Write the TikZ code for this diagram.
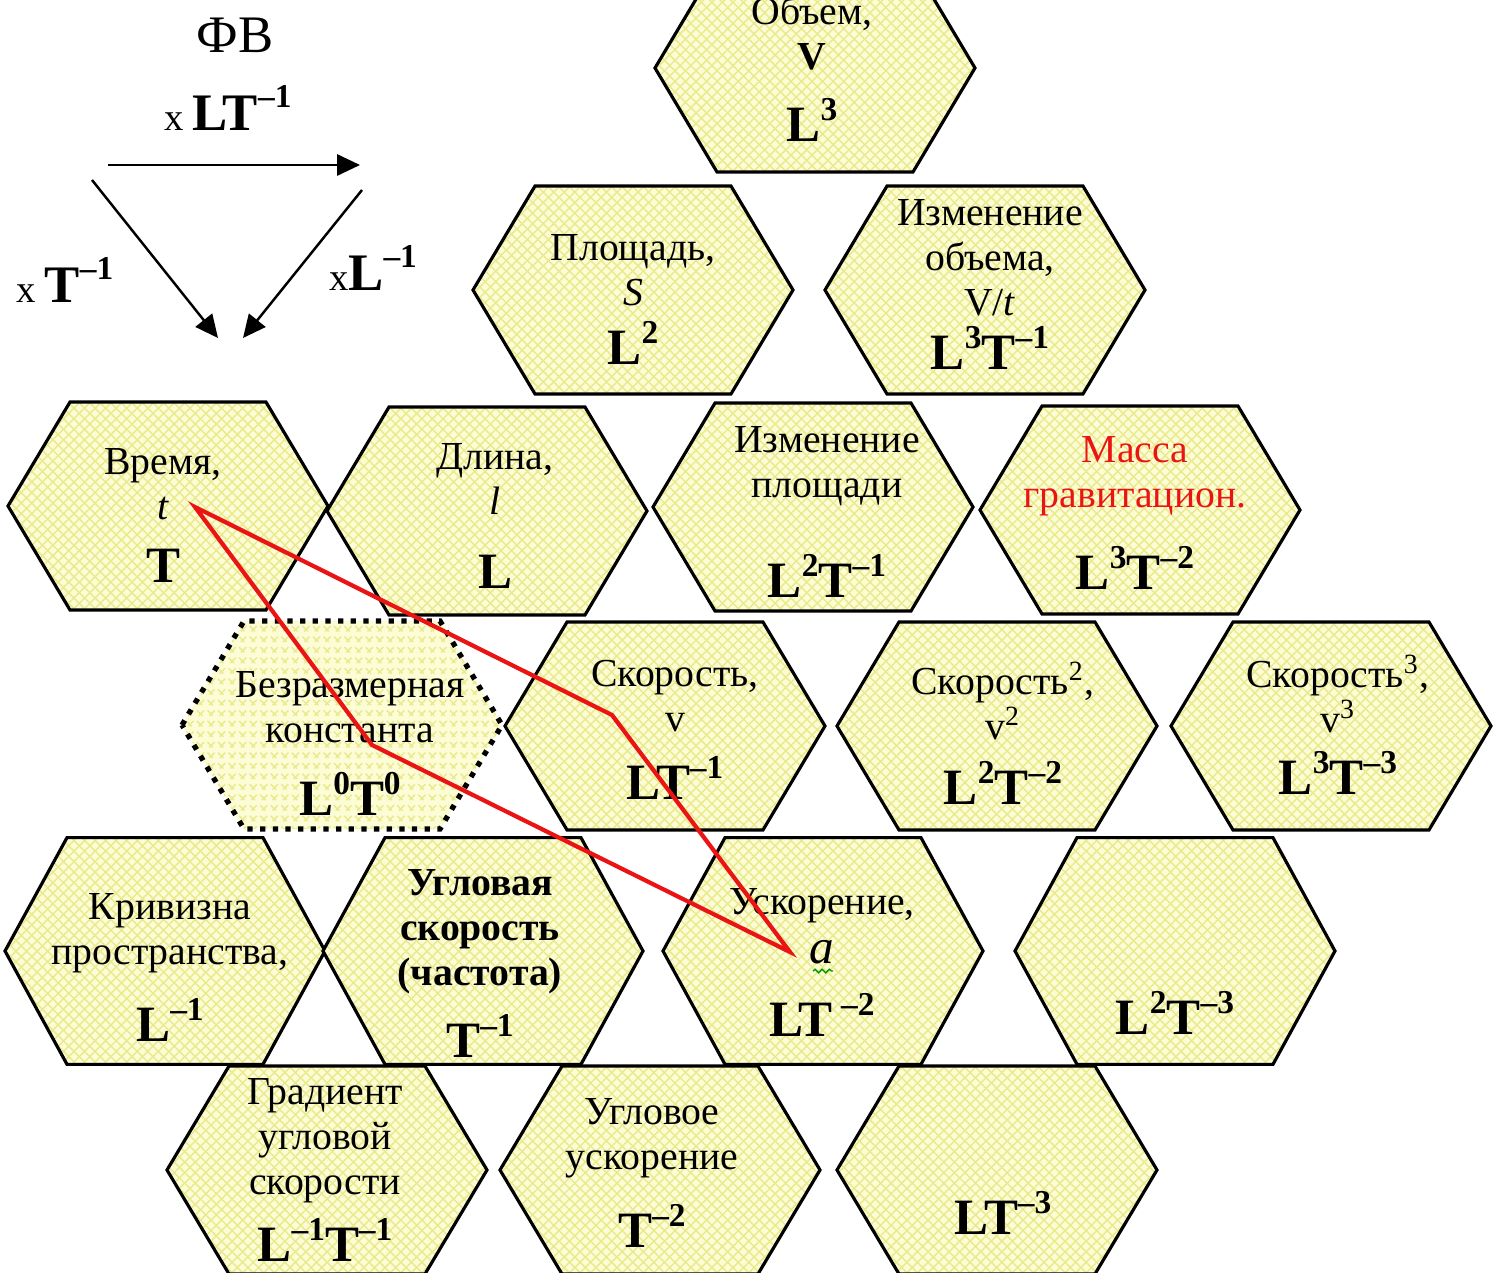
\documentclass[tikz,border=0pt]{standalone}
\usepackage{fontspec}
\setmainfont{Liberation Serif}
\usetikzlibrary{patterns,arrows.meta,decorations.pathmorphing}

\definecolor{hexfill}{RGB}{252,252,214}
\definecolor{hexhatch}{RGB}{234,234,140}
\definecolor{pathred}{RGB}{235,20,20}

\newcommand{\ex}[1]{\raisebox{0.42em}{\fontsize{9.5}{9.5}\selectfont #1}}

\tikzset{
  hexline/.style={draw=black, line width=0.9pt, preaction={fill=hexfill},
    pattern=crosshatch, pattern color=hexhatch},
  hexcell/.pic={\path[hexline] (-1.6,0) -- (-0.98,1.04) -- (0.98,1.04) -- (1.6,0)
    -- (0.98,-1.04) -- (-0.98,-1.04) -- cycle;},
  quantity/.style={font=\fontsize{11.3}{12.8}\selectfont, align=center, inner sep=0pt},
  dimen/.style={font=\fontsize{14.5}{16}\selectfont\bfseries, inner sep=0pt},
}

\begin{document}
\begin{tikzpicture}[>={Triangle[length=6.5pt,width=6pt]}]
\useasboundingbox (0,0) rectangle (14.97,-12.73);
\clip (0,0) rectangle (14.97,-12.73);

% legend
\node[font=\fontsize{15}{16}\selectfont] (fv) at (2.35,-0.35) {ФВ};
\node[font=\fontsize{15}{16}\selectfont] (lab-lt) at (2.28,-1.08) {{\fontsize{11}{11}\selectfont x}\,\textbf{LT\ex{–1}}};
\coordinate (a1) at (1.08,-1.65);
\coordinate (a2) at (3.60,-1.65);
\coordinate (b1) at (0.92,-1.80);
\coordinate (b2) at (2.18,-3.38);
\coordinate (c1) at (3.62,-1.90);
\coordinate (c2) at (2.43,-3.38);
\draw[->, line width=0.7pt] (a1) -- (a2);
\draw[->, line width=0.7pt] (b1) -- (b2);
\draw[->, line width=0.7pt] (c1) -- (c2);
\node[font=\fontsize{15}{16}\selectfont] (lab-t) at (0.65,-2.80) {{\fontsize{11}{11}\selectfont x}\,\textbf{T\ex{–1}}};
\node[font=\fontsize{15}{16}\selectfont] (lab-l) at (3.73,-2.68) {{\fontsize{11}{11}\selectfont x}\textbf{L\ex{–1}}};

% hexagons
\pic at (8.15,-0.68) {hexcell};
\pic at (6.33,-2.90) {hexcell};
\pic at (9.85,-2.90) {hexcell};
\pic at (1.68,-5.06) {hexcell};
\pic at (4.87,-5.11) {hexcell};
\pic at (8.13,-5.07) {hexcell};
\pic at (11.40,-5.10) {hexcell};
\pic[hexline/.append style={line width=1.5pt, dash pattern=on 1.5pt off 2.1pt}] at (3.42,-7.25) {hexcell};
\pic at (6.65,-7.26) {hexcell};
\pic at (9.97,-7.26) {hexcell};
\pic at (13.31,-7.26) {hexcell};
\pic[yscale=1.09] at (1.65,-9.51) {hexcell};
\pic[yscale=1.09] at (4.83,-9.51) {hexcell};
\pic[yscale=1.09] at (8.23,-9.51) {hexcell};
\pic[yscale=1.09] at (11.75,-9.51) {hexcell};
\pic at (3.27,-11.70) {hexcell};
\pic at (6.60,-11.70) {hexcell};
\pic at (9.97,-11.70) {hexcell};

% names of the quantities
\node[quantity] (vol) at (8.12,-0.33) {Объем,\\\textbf{V}};
\node[quantity] (area) at (6.33,-2.70) {Площадь,\\\textit{S}};
\node[quantity] (dvol) at (9.90,-2.58) {Изменение\\объема,\\V/\textit{t}};
\node[quantity] (time) at (1.63,-4.84) {Время,\\\textit{t}};
\node[quantity] (len) at (4.95,-4.79) {Длина,\\\textit{l}};
\node[quantity] (darea) at (8.27,-4.66) {Изменение\\площади};
\node[quantity, text=pathred] (mass) at (11.35,-4.76) {Масса\\гравитацион.};
\node[quantity] (const) at (3.50,-7.07) {Безразмерная\\константа};
\node[quantity] (vel) at (6.75,-6.96) {Скорость,\\v};
\node[quantity] (vel2) at (10.03,-7.01) {Скорость\textsuperscript{2},\\v\textsuperscript{2}};
\node[quantity] (vel3) at (13.38,-6.94) {Скорость\textsuperscript{3},\\v\textsuperscript{3}};
\node[quantity] (curv) at (1.70,-9.33) {Кривизна\\пространства,};
\node[quantity, font=\fontsize{11.3}{12.8}\selectfont\bfseries] (omega) at (4.80,-9.32) {Угловая\\скорость\\(частота)};
\node[quantity] (acc) at (8.22,-9.26) {Ускорение,\\[1pt]{\fontsize{14}{14}\selectfont\textit{a}}};
\node[quantity] (grad) at (3.25,-11.41) {Градиент\\угловой\\скорости};
\node[quantity] (alpha) at (6.52,-11.38) {Угловое\\ускорение};
\draw[green!60!black, line width=0.4pt, decorate, decoration={snake, amplitude=0.5pt, segment length=2pt}] (8.13,-9.71) -- (8.33,-9.71);

% dimensions
\node[dimen] (vol-d) at (8.12,-1.20) {L\ex{3}};
\node[dimen] (area-d) at (6.33,-3.43) {L\ex{2}};
\node[dimen] (dvol-d) at (9.90,-3.48) {L\ex{3}T\ex{–1}};
\node[dimen] (time-d) at (1.63,-5.66) {T};
\node[dimen] (len-d) at (4.95,-5.72) {L};
\node[dimen] (darea-d) at (8.27,-5.76) {L\ex{2}T\ex{–1}};
\node[dimen] (mass-d) at (11.35,-5.68) {L\ex{3}T\ex{–2}};
\node[dimen] (const-d) at (3.50,-7.94) {L\ex{0}T\ex{0}};
\node[dimen] (vel-d) at (6.75,-7.78) {LT\ex{–1}};
\node[dimen] (vel2-d) at (10.03,-7.83) {L\ex{2}T\ex{–2}};
\node[dimen] (vel3-d) at (13.38,-7.73) {L\ex{3}T\ex{–3}};
\node[dimen] (curv-d) at (1.70,-10.20) {L\ex{–1}};
\node[dimen] (omega-d) at (4.80,-10.36) {T\ex{–1}};
\node[dimen] (acc-d) at (8.22,-10.15) {LT\,\ex{–2}};
\node[dimen] (l2t3-d) at (11.75,-10.13) {L\ex{2}T\ex{–3}};
\node[dimen] (grad-d) at (3.25,-12.40) {L\ex{–1}T\ex{–1}};
\node[dimen] (alpha-d) at (6.52,-12.26) {T\ex{–2}};
\node[dimen] (lt3-d) at (10.03,-12.13) {LT\ex{–3}};

% red parallelogram
\coordinate (r1) at (1.95,-5.07);
\coordinate (r2) at (6.12,-7.15);
\coordinate (r3) at (7.90,-9.52);
\coordinate (r4) at (3.72,-7.45);
\draw[pathred, line width=1.2pt, line join=miter] (r1) -- (r2) -- (r3) -- (r4) -- cycle;
\end{tikzpicture}
\end{document}
